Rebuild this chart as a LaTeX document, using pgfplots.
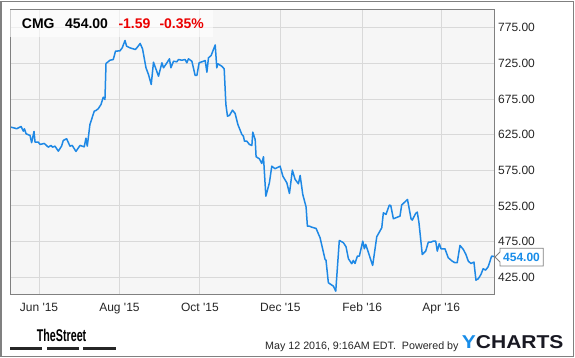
\documentclass[border=0pt]{standalone}
\usepackage{fontspec}
\setmainfont{Liberation Sans}
\usepackage{graphicx}
\usepackage{pgfplots}
\pgfplotsset{compat=1.18}
\definecolor{lineblue}{RGB}{30,136,229}
\definecolor{gridgray}{RGB}{217,217,217}
\definecolor{framegray}{RGB}{128,128,128}
\definecolor{bggray}{RGB}{246,246,246}
\definecolor{redtxt}{RGB}{235,0,0}
\definecolor{ybl}{RGB}{24,141,233}
\definecolor{ydark}{RGB}{25,25,35}
\begin{document}
\begin{tikzpicture}[x=1pt,y=1pt]
\fill[white] (-60,-120) rectangle (640,360);
\begin{axis}[
  scale only axis, width=484pt, height=285pt,
  xmin=-22, xmax=345, ymin=400, ymax=800,
  axis background/.style={fill=bggray},
  axis line style={framegray, line width=1pt},
  grid=major, major grid style={gridgray, line width=1pt},
  tick style={draw=none},
  xtick={0,61,122,183,245,305},
  xticklabels={Jun \textquotesingle15, Aug \textquotesingle15, Oct \textquotesingle15, Dec \textquotesingle15, Feb \textquotesingle16, Apr \textquotesingle16},
  ytick={425,475,525,575,625,675,725,775},
  yticklabels={425.00,475.00,525.00,575.00,625.00,675.00,725.00,775.00},
  yticklabel pos=right,
  yticklabel style={anchor=west, inner sep=0pt, xshift=4pt, font=\fontsize{12}{12}\selectfont, text=black!85},
  xticklabel style={anchor=north, inner sep=0pt, yshift=-8pt, font=\fontsize{12}{12}\selectfont, text=black!85},
]
\addplot[lineblue, line width=1.5pt, no marks, line join=round] coordinates {
(-21.2,635.5) (-18.2,634.1) (-17.0,633.3) (-13.6,636.5) (-11.9,629.9) (-11.1,633.3) (-9.8,626.3) (-6.8,623.9) (-5.6,613.7) (-3.8,629.5) (-3.0,614.5) (-0.5,614.5) (0.8,611.3) (4.0,612.7) (7.0,607.5) (9.1,609.9) (10.3,607.5) (12.1,608.9) (14.6,601.9) (17.1,608.9) (18.4,616.9) (20.9,619.3) (23.5,608.9) (25.2,609.9) (28.0,601.5) (31.1,609.9) (34.3,608.0) (35.6,620.1) (36.6,608.9) (38.6,639.3) (41.9,658.0) (43.2,659.0) (44.9,661.4) (47.0,667.4) (48.7,677.6) (50.0,674.4) (50.8,724.9) (53.8,729.5) (56.3,730.5) (58.0,742.2) (61.4,742.7) (63.1,746.9) (65.2,757.2) (66.4,749.2) (68.9,746.9) (71.4,745.5) (73.0,744.6) (74.2,746.9) (76.7,753.0) (78.5,745.5) (81.1,718.9) (83.0,709.5) (85.1,695.5) (86.8,726.7) (88.6,717.5) (90.6,707.1) (93.2,725.9) (94.4,718.9) (97.0,725.9) (98.9,731.5) (100.0,718.9) (102.0,728.1) (104.5,727.3) (105.8,730.5) (108.3,729.5) (110.8,730.5) (112.1,725.9) (113.3,731.5) (115.9,728.1) (118.4,708.1) (119.7,708.1) (121.4,725.9) (124.7,728.1) (126.0,729.1) (127.3,712.7) (128.5,732.9) (130.5,736.1) (133.6,750.9) (134.8,718.9) (135.6,724.5) (138.6,721.1) (140.4,717.5) (141.7,667.4) (142.9,651.0) (144.4,652.0) (146.7,659.4) (148.7,654.8) (150.8,639.3) (153.8,625.3) (155.0,622.9) (155.8,615.9) (157.6,615.9) (159.5,611.3) (161.4,609.9) (162.1,628.5) (163.9,618.3) (164.6,594.0) (167.1,591.2) (168.9,584.6) (170.2,594.0) (172.0,538.7) (174.7,557.5) (176.5,580.8) (179.0,577.2) (182.8,580.8) (184.9,566.8) (187.9,557.5) (189.9,542.5) (192.1,575.2) (194.2,562.2) (196.7,556.1) (198.0,567.8) (200.0,541.1) (202.5,523.6) (203.5,496.6) (205.0,496.6) (206.8,495.2) (210.1,493.4) (213.1,480.4) (216.9,449.9) (217.6,448.9) (219.4,417.2) (221.2,414.9) (223.2,412.5) (225.0,405.4) (227.7,476.6) (230.8,473.4) (232.8,467.7) (234.6,450.9) (237.1,443.9) (238.3,448.5) (239.6,444.3) (241.4,454.6) (242.9,454.6) (245.5,475.6) (246.7,464.9) (247.7,471.0) (253.0,441.5) (256.1,481.8) (259.9,494.4) (261.1,515.4) (263.1,513.1) (265.6,526.1) (266.7,525.7) (268.7,507.0) (273.7,510.7) (275.0,526.4) (276.8,529.5) (279.4,534.1) (282.1,507.0) (283.0,505.1) (285.6,514.5) (286.8,516.3) (288.1,501.4) (290.6,456.9) (293.2,461.6) (295.2,474.2) (297.2,474.2) (298.9,475.6) (300.8,475.6) (302.0,461.6) (303.5,472.0) (304.8,464.9) (307.8,464.9) (310.3,452.3) (313.3,447.5) (315.4,445.3) (317.1,445.3) (319.2,469.6) (321.7,464.0) (323.7,456.9) (325.5,447.5) (327.5,444.3) (329.8,446.1) (331.3,420.9) (333.1,422.8) (335.1,428.9) (336.8,436.9) (338.6,434.9) (340.6,439.7) (343.2,454.6) (344.9,454.0)
};
\coordinate (SW) at (rel axis cs:0,0);
\end{axis}
\pgfresetboundingbox
\begin{scope}[shift={(SW)}]
\path[use as bounding box] (-10,-63) rectangle (565,295);
% title box
\fill[white, opacity=0.6] (0,258) rectangle (203,285);
\node[anchor=base west, inner sep=0pt, font=\fontsize{14}{14}\selectfont\bfseries] at (11.7,266.7) {CMG};
\node[anchor=base west, inner sep=0pt, font=\fontsize{14}{14}\selectfont\bfseries] at (55,266.7) {454.00};
\node[anchor=base west, inner sep=0pt, font=\fontsize{14}{14}\selectfont\bfseries, text=redtxt] at (108.3,266.7) {-1.59};
\node[anchor=base west, inner sep=0pt, font=\fontsize{14}{14}\selectfont\bfseries, text=redtxt] at (149.3,266.7) {-0.35\%};
% last price marker
\filldraw[fill=white, draw=framegray, line width=0.8pt] (485,38) -- (490,43) -- (490,46.7) -- (533.3,46.7) -- (533.3,29) -- (490,29) -- (490,33) -- cycle;
\node[inner sep=0pt, font=\fontsize{12}{12}\selectfont\bfseries, text=ybl] at (511.5,37.8) {454.00};
% footer
\node[anchor=base west, inner sep=0pt, font=\fontsize{17}{17}\selectfont\bfseries] at (26.7,-46.7) {\scalebox{0.63}[1]{TheStreet}};
\fill[black!85] (0,-55.3) rectangle (32.3,-52);
\fill[black!85] (36.7,-55.3) rectangle (69,-52);
\fill[black!85] (73.3,-55.3) rectangle (105.7,-52);
\node[anchor=base west, inner sep=0pt, font=\fontsize{10.7}{10.7}\selectfont, text=black!85] at (255,-54.3) {May 12 2016, 9:16AM EDT.\ \ Powered by};
\node[anchor=base west, inner sep=0pt, font=\fontsize{18.6}{18.6}\selectfont\bfseries] at (451.7,-53.3) {\scalebox{1.13}[1]{\textcolor{ybl}{Y}\textcolor{ydark}{CHARTS}}};
% outer border
\draw[framegray, line width=1.5pt] (-9,-61.5) rectangle (563.5,293.5);
\end{scope}
\end{tikzpicture}
\end{document}
